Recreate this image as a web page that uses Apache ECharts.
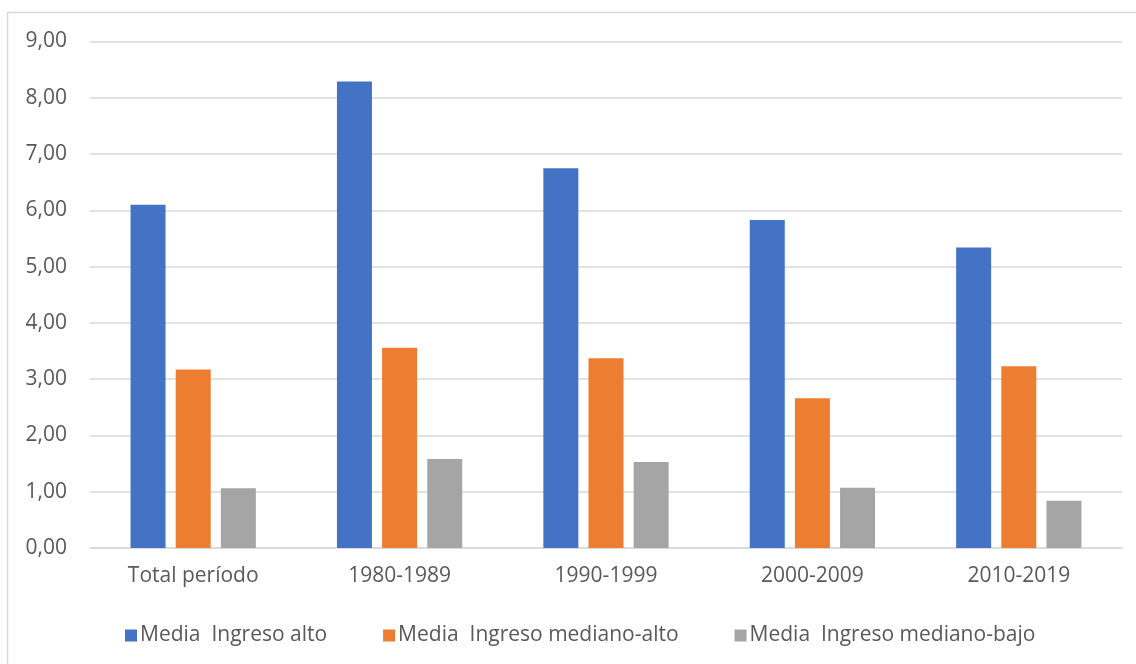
<!DOCTYPE html>
<html>
<head>
<meta charset="utf-8">
<script src="https://cdn.jsdelivr.net/npm/echarts@6/dist/echarts.min.js"></script>
<style>
  html, body { margin: 0; padding: 0; background: #fff; }
  #chart { width: 1136px; height: 664px; }
</style>
</head>
<body>
<div id="chart"></div>
<script>
// Periods on the category axis
const categories = ['Total período', '1980-1989', '1990-1999', '2000-2009', '2010-2019'];

// Series names and values (mean by income group)
const seriesNames = ['Media  Ingreso alto', 'Media  Ingreso mediano-alto', 'Media  Ingreso mediano-bajo'];
const ingresoAlto = [6.10, 8.29, 6.75, 5.83, 5.34];
const ingresoMedianoAlto = [3.17, 3.56, 3.37, 2.66, 3.23];
const ingresoMedianoBajo = [1.06, 1.58, 1.53, 1.07, 0.84];

// Value axis ticks
const yMin = 0, yMax = 9, yStep = 1;

const colors = ['#4472C4', '#ED7D31', '#A5A5A5'];
const textColor = '#595959';
const fontFamily = '"Open Sans", "Noto Sans", sans-serif';
const fontSize = 21;

const chart = echarts.init(document.getElementById('chart'));

function barSeries(name, data, color) {
  return {
    name: name,
    type: 'bar',
    data: data,
    barWidth: 35,
    barGap: '29%',
    itemStyle: { color: color },
    emphasis: { disabled: true }
  };
}

chart.setOption({
  animation: false,
  color: colors,
  graphic: [{
    type: 'rect',
    shape: { x: 7.5, y: 12.5, width: 1140, height: 670 },
    style: { fill: 'none', stroke: '#d9d9d9', lineWidth: 1.5 },
    silent: true
  }],
  grid: { left: 90, right: 14, top: 41.5, bottom: 116, containLabel: false },
  xAxis: {
    type: 'category',
    data: categories,
    axisTick: { show: false },
    axisLine: { lineStyle: { color: '#d9d9d9', width: 1.5 } },
    axisLabel: { color: textColor, fontSize: fontSize, fontFamily: fontFamily, margin: 18 }
  },
  yAxis: {
    type: 'value',
    min: yMin,
    max: yMax,
    interval: yStep,
    axisLine: { show: false },
    axisTick: { show: false },
    splitLine: { lineStyle: { color: '#d9d9d9', width: 1.5 } },
    axisLabel: {
      color: textColor, fontSize: fontSize, fontFamily: fontFamily, margin: 23,
      formatter: v => v.toFixed(2).replace('.', ',')
    }
  },
  legend: {
    left: 120,
    top: 620,
    itemWidth: 12,
    itemHeight: 12,
    itemGap: 56,
    icon: 'rect',
    textStyle: { color: textColor, fontSize: fontSize, fontFamily: fontFamily, padding: [0, 0, 0, -2] },
    data: seriesNames
  },
  series: [
    barSeries(seriesNames[0], ingresoAlto, colors[0]),
    barSeries(seriesNames[1], ingresoMedianoAlto, colors[1]),
    barSeries(seriesNames[2], ingresoMedianoBajo, colors[2])
  ]
});
</script>
</body>
</html>
